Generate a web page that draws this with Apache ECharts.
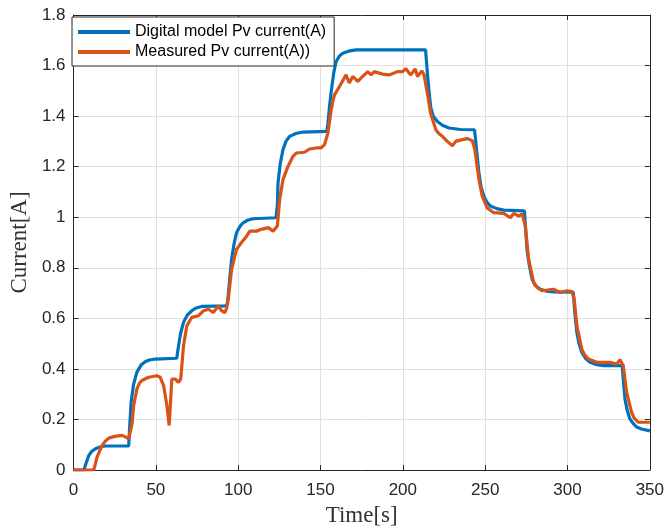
<!DOCTYPE html>
<html>
<head>
<meta charset="utf-8">
<script src="https://cdn.jsdelivr.net/npm/echarts@6/dist/echarts.min.js"></script>
<style>
html,body{margin:0;padding:0;background:#fff;}
#chart{width:667px;height:532px;}
</style>
</head>
<body>
<div id="chart"></div>
<script>
var modelT = [0,6.3,7.5,9.3,11,13.3,16,19.4,33.5,34,35,36.5,38.5,41,43.5,46,49.6,62.7,63.5,65,66.8,69,71.8,74.5,77.8,92.5,93.5,94.5,96,97.5,99,101,103,106,109.1,123,123.8,124.2,125.5,127.2,129,131.3,135,139.3,153.8,154.5,155.5,156.5,158,159.5,161.5,163.5,167,171.6,213.8,214.3,215,216,217,218.5,221,224,228,235,243.5,244.2,245,246.2,247.5,249.2,251,253.2,257,261.3,273.8,274.5,275.4,276.8,278.5,280.5,283.5,287,291.5,303.5,304.5,305.7,307,308.7,311,313.7,317,321.8,333.2,334,334.9,336.3,337.9,340,342,345,350];
var modelV = [0,0,0.025,0.058,0.073,0.084,0.091,0.095,0.095,0.16,0.27,0.34,0.387,0.415,0.428,0.435,0.439,0.442,0.48,0.54,0.584,0.612,0.630,0.641,0.647,0.649,0.66,0.73,0.834,0.895,0.939,0.963,0.978,0.989,0.994,0.998,1.05,1.136,1.21,1.267,1.300,1.320,1.331,1.337,1.340,1.37,1.44,1.497,1.57,1.616,1.638,1.649,1.657,1.662,1.662,1.62,1.563,1.49,1.432,1.400,1.379,1.364,1.353,1.347,1.346,1.307,1.25,1.176,1.12,1.083,1.060,1.044,1.034,1.028,1.025,0.96,0.873,0.81,0.755,0.730,0.715,0.708,0.705,0.704,0.62,0.544,0.50,0.465,0.441,0.426,0.418,0.413,0.413,0.35,0.281,0.235,0.202,0.183,0.170,0.162,0.155];
var measT = [0,12.3,13.3,14.3,15.8,17.4,19.4,21.4,25,29.5,31.5,33.5,34.5,35.5,36.5,38.5,40,41.5,45.6,50.6,52.6,54.7,56.7,58.1,59.7,61.7,63.7,65.1,66.8,68.8,71.8,75.8,78.9,81.9,84.9,87.9,89.9,91.9,93,94,96,99,102,105.1,107.1,111.1,114.1,118.2,121.2,123.8,125.2,127.2,130.3,133.3,135.3,140.3,143.3,147.4,150.4,152.4,154.5,156.5,157.5,158.5,161.5,163.5,165.5,167.5,169.6,172.6,175.6,178.7,180.7,182.7,187.7,191.7,196.8,199.8,201.8,204.8,207.5,208.9,211.5,212.9,214.9,216.9,218.9,220,222,224,227,230.1,232.1,236.1,239.1,242.2,243.7,246.2,248.2,251.2,255.2,261.3,265.3,267.3,270.4,272.4,274.4,276.4,279.4,282,284.5,291.5,295.6,299.6,302.6,304,305.7,308.7,310.5,312.7,317.8,325.8,329.9,331.9,333.9,335.9,338.9,340.5,342.9,350];
var measV = [0,0,0.025,0.051,0.075,0.097,0.115,0.126,0.133,0.137,0.131,0.123,0.117,0.18,0.255,0.321,0.343,0.354,0.367,0.373,0.367,0.334,0.255,0.176,0.36,0.36,0.347,0.36,0.492,0.570,0.604,0.61,0.63,0.636,0.623,0.649,0.63,0.623,0.64,0.676,0.794,0.873,0.9,0.925,0.945,0.945,0.952,0.959,0.945,0.965,1.07,1.149,1.202,1.241,1.254,1.257,1.27,1.274,1.274,1.287,1.333,1.425,1.458,1.484,1.517,1.54,1.563,1.531,1.557,1.537,1.557,1.576,1.563,1.576,1.566,1.563,1.576,1.576,1.587,1.563,1.587,1.557,1.579,1.563,1.49,1.41,1.37,1.346,1.33,1.32,1.30,1.283,1.30,1.307,1.311,1.303,1.268,1.149,1.083,1.037,1.018,1.015,0.998,1.015,1.004,1.014,0.965,0.834,0.742,0.72,0.709,0.715,0.702,0.709,0.706,0.68,0.570,0.478,0.455,0.439,0.426,0.426,0.419,0.436,0.413,0.308,0.229,0.205,0.189,0.189];
var seriesNames = ['Digital model Pv current(A)', 'Measured Pv current(A))'];
var xTicks = {min: 0, max: 350, interval: 50};
var yTicks = {min: 0, max: 1.8, interval: 0.2};

function pairs(t, v) { return t.map(function (x, i) { return [x, v[i]]; }); }

var axisColor = '#262626';
var gridColor = '#e0e0e0';
var labelStyle = {color: axisColor, fontFamily: 'Liberation Sans, Arial, sans-serif', fontSize: 17};
var nameStyle = {color: '#333', fontFamily: 'Liberation Serif, Times New Roman, serif', fontSize: 23};

var chart = echarts.init(document.getElementById('chart'), null, {renderer: 'canvas'});
chart.setOption({
  animation: false,
  backgroundColor: '#fff',
  grid: {left: 71, right: 17, top: 15, bottom: 61, containLabel: false},
  legend: {
    orient: 'vertical', left: 72, top: 17,
    padding: [7, 8, 6, 6], itemGap: 4,
    itemWidth: 52, itemHeight: 4, icon: 'rect',
    backgroundColor: '#fff', borderColor: '#262626', borderWidth: 1,
    textStyle: {color: '#000', fontFamily: 'Liberation Sans, Arial, sans-serif', fontSize: 16},
    data: seriesNames
  },
  xAxis: [{
    type: 'value', min: xTicks.min, max: xTicks.max, interval: xTicks.interval,
    name: 'Time[s]', nameLocation: 'middle', nameGap: 34, nameTextStyle: nameStyle,
    axisLine: {show: true, onZero: false, lineStyle: {color: axisColor, width: 1}},
    axisTick: {show: true, inside: true, length: 5, lineStyle: {color: axisColor}},
    axisLabel: Object.assign({margin: 12}, labelStyle),
    splitLine: {show: true, lineStyle: {color: gridColor, width: 1}}
  }, {
    type: 'value', position: 'top', min: xTicks.min, max: xTicks.max, interval: xTicks.interval,
    axisLine: {show: true, onZero: false, lineStyle: {color: axisColor, width: 1}},
    axisTick: {show: true, inside: true, length: 5, lineStyle: {color: axisColor}},
    axisLabel: {show: false}, splitLine: {show: false}
  }],
  yAxis: [{
    type: 'value', min: yTicks.min, max: yTicks.max, interval: yTicks.interval,
    name: 'Current[A]', nameLocation: 'middle', nameGap: 35, nameTextStyle: nameStyle,
    axisLine: {show: true, onZero: false, lineStyle: {color: axisColor, width: 1}},
    axisTick: {show: true, inside: true, length: 5, lineStyle: {color: axisColor}},
    axisLabel: Object.assign({margin: 8, formatter: function (v) { return String(Math.round(v * 10) / 10); }}, labelStyle),
    splitLine: {show: true, lineStyle: {color: gridColor, width: 1}}
  }, {
    type: 'value', position: 'right', min: yTicks.min, max: yTicks.max, interval: yTicks.interval,
    axisLine: {show: true, onZero: false, lineStyle: {color: axisColor, width: 1}},
    axisTick: {show: true, inside: true, length: 5, lineStyle: {color: axisColor}},
    axisLabel: {show: false}, splitLine: {show: false}
  }],
  series: [{
    name: seriesNames[0], type: 'line', xAxisIndex: 0, yAxisIndex: 0,
    data: pairs(modelT, modelV), showSymbol: false, symbol: 'none',
    lineStyle: {color: '#0072BD', width: 3.2}, itemStyle: {color: '#0072BD'}, z: 2
  }, {
    name: seriesNames[1], type: 'line', xAxisIndex: 0, yAxisIndex: 0,
    data: pairs(measT, measV), showSymbol: false, symbol: 'none',
    lineStyle: {color: '#D95319', width: 3.2}, itemStyle: {color: '#D95319'}, z: 3
  }]
});
</script>
</body>
</html>
